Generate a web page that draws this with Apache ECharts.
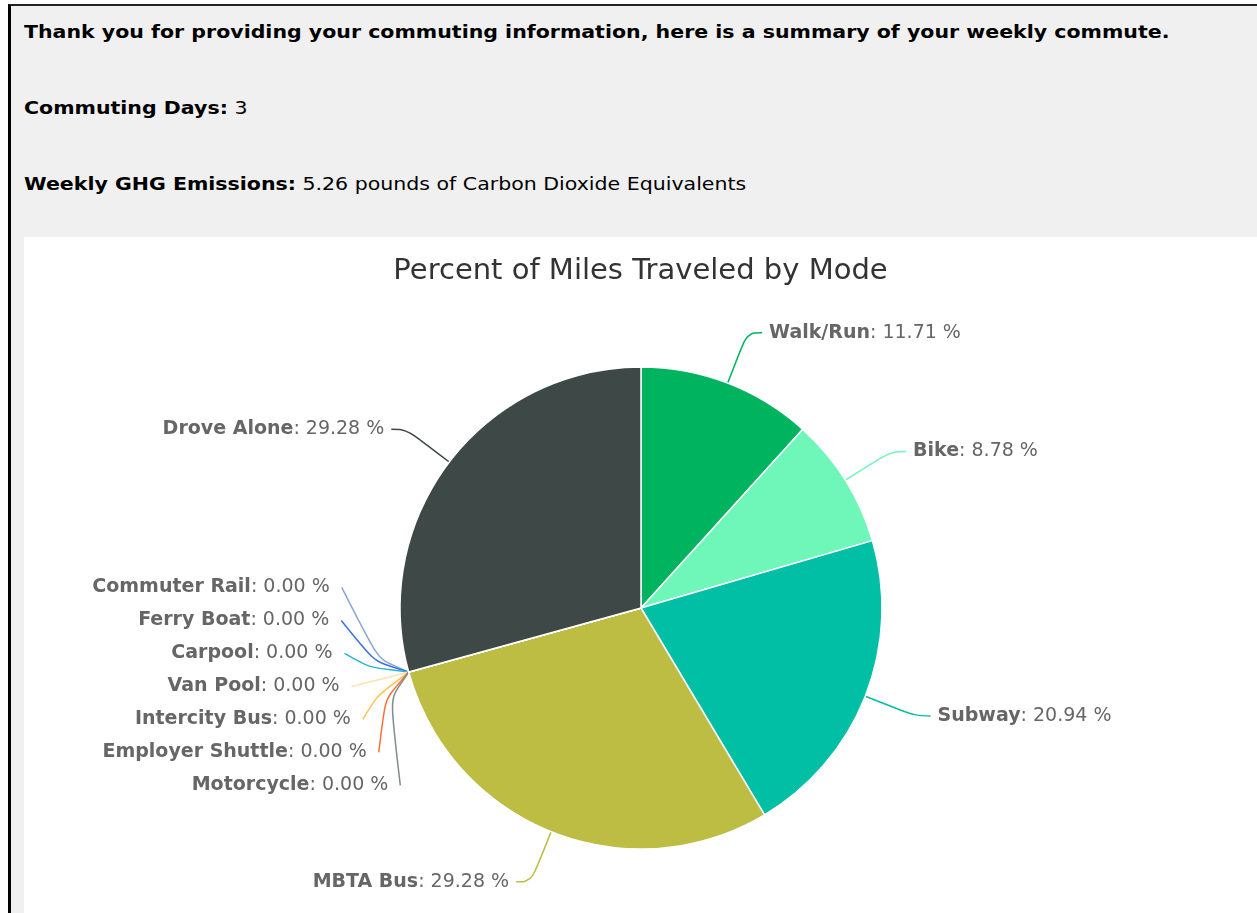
<!DOCTYPE html>
<html>
<head>
<meta charset="utf-8">
<script src="https://cdn.jsdelivr.net/npm/echarts@6/dist/echarts.min.js"></script>
<style>
  html, body { margin: 0; padding: 0; background: #fff; width: 1257px; height: 913px; overflow: hidden; }
  #frame { position: absolute; left: 8px; top: 4px; right: 0; bottom: 0; background: #f0f0f0;
           border-top: 2px solid #222; border-left: 3px solid #000; }
  .line { position: absolute; left: 24px; font-family: "DejaVu Sans", Verdana, sans-serif; font-size: 18px; color: #000;
          white-space: nowrap; line-height: 20px; transform: scaleX(1.14); transform-origin: 0 50%; }
  .line b { font-weight: bold; }
  #chart { position: absolute; left: 24px; top: 237px; width: 1233px; height: 676px; background: #fff; }
</style>
</head>
<body>
<div id="frame"></div>
<div class="line" id="l1" style="top:22px"></div>
<div class="line" id="l2" style="top:98px"></div>
<div class="line" id="l3" style="top:174px"></div>
<div id="chart"></div>
<script>
// ---- data ----
const commutingDays = 3;
const weeklyEmissions = 5.26;
const chartTitle = 'Percent of Miles Traveled by Mode';
const modeNames = ['Walk/Run', 'Bike', 'Subway', 'MBTA Bus', 'Commuter Rail', 'Ferry Boat', 'Carpool',
                   'Van Pool', 'Intercity Bus', 'Employer Shuttle', 'Motorcycle', 'Drove Alone'];
const modePercents = [11.71, 8.78, 20.94, 29.28, 0, 0, 0, 0, 0, 0, 0, 29.28];
// ---- style ----
const palette = ['#00b45f', '#6ef7b9', '#00bfa5', '#bcbd42', '#8ba6d6', '#3b72df', '#2ab5d6',
                 '#ffe2b0', '#ffc04d', '#ff6e3a', '#7d8c8c', '#3e4846'];

document.getElementById('l1').innerHTML = '<b>Thank you for providing your commuting information, here is a summary of your weekly commute.</b>';
document.getElementById('l2').innerHTML = '<b>Commuting Days:</b> ' + commutingDays;
document.getElementById('l3').innerHTML = '<b>Weekly GHG Emissions:</b> ' + weeklyEmissions.toFixed(2) + ' pounds of Carbon Dioxide Equivalents';

// layout constants
const pieCenter = [617, 371];
const pieRadius = 241;
const lineLen = 54, lineLen2 = 15, textGap = 7, stackGap = 33;
const zeroIdx = modePercents.map((v, i) => (v === 0 ? i : -1)).filter(i => i >= 0);

const chart = echarts.init(document.getElementById('chart'), null, { renderer: 'canvas' });
const data = modeNames.map((n, i) => (modePercents[i] === 0
  ? { name: n, value: modePercents[i], labelLine: { smooth: 1 } }
  : { name: n, value: modePercents[i] }));
chart.setOption({
  color: palette,
  animation: false,
  title: {
    text: chartTitle, left: 'center', top: 15,
    textStyle: { fontFamily: 'DejaVu Sans', fontSize: 29, fontWeight: 'normal', color: '#333' }
  },
  series: [{
    type: 'pie',
    center: pieCenter,
    radius: [0, pieRadius],
    startAngle: 90,
    clockwise: true,
    data: data,
    itemStyle: { borderColor: '#fff', borderWidth: 1.5 },
    avoidLabelOverlap: false,
    label: {
      show: true,
      position: 'outside',
      distanceToLabelLine: textGap,
      fontFamily: 'DejaVu Sans',
      fontSize: 19,
      color: '#666',
      formatter: p => '{n|' + p.name + '}: ' + p.value.toFixed(2) + ' %',
      rich: { n: { fontWeight: 'bold', fontFamily: 'DejaVu Sans', fontSize: 19, color: '#666' } }
    },
    labelLine: { show: true, length: lineLen, length2: lineLen2, smooth: 0.4, lineStyle: { width: 1.5 } },
    // fan the stacked zero-value labels out evenly around their common anchor
    labelLayout: function (p) {
      const k = zeroIdx.indexOf(p.dataIndex);
      if (k < 0 || !p.labelLinePoints) return {};
      const cx = pieCenter[0], cy = pieCenter[1];
      const R = pieRadius + lineLen;
      const p0 = p.labelLinePoints[0];
      const dir = p0[0] < cx ? -1 : 1;
      const ux = (p0[0] - cx) / pieRadius, uy = (p0[1] - cy) / pieRadius;
      const yNat = cy + uy * R;
      const y = yNat + (k - (zeroIdx.length - 1) / 2) * stackGap;
      const dy = y - cy;
      const x1 = cx + dir * Math.sqrt(Math.max(R * R - dy * dy, 0));
      const pr = [cx + ux * (pieRadius + 22), cy + uy * (pieRadius + 22)];
      return {
        x: x1 + dir * 17,
        y: y,
        labelLinePoints: [p0, pr, [x1 + dir * 5, y]]
      };
    }
  }]
});
</script>
</body>
</html>
